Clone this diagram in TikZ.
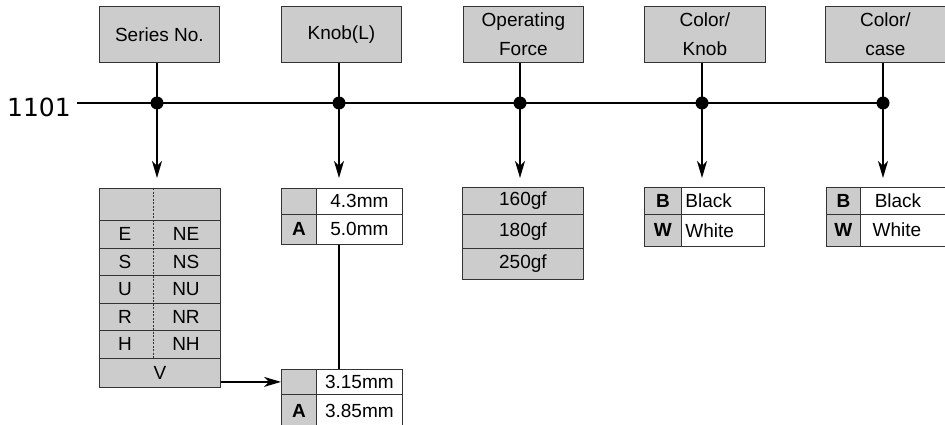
\documentclass[tikz,border=0pt]{standalone}
\usepackage{fontspec}
\setmainfont{Liberation Sans}
\newfontfamily\numfont{DejaVu Sans}
\usetikzlibrary{arrows.meta}
\begin{document}
\begin{tikzpicture}[x=1pt,y=-1pt,
  every node/.style={font=\fontsize{19}{29}\selectfont},
  lbl/.style={draw=black!80, line width=0.8pt, fill=black!20, minimum width=120pt, minimum height=56pt, anchor=north west, inner sep=0pt, align=center},
  cellg/.style={draw=black!80, line width=0.8pt, fill=black!20, anchor=north west, inner sep=0pt},
  cellw/.style={cellg, fill=white},
  cellwl/.style={cellw, text width=75pt, align=left, inner xsep=4pt},
  txt/.style={inner sep=0pt},
  conn/.style={line width=1.5pt},
  arr/.style={conn, -{Stealth[length=17pt,width=10pt,inset=5pt]}},
  dot/.style={circle, fill=black, inner sep=0pt, minimum size=13pt}
]
\useasboundingbox (0,0) rectangle (945,425);

% top label boxes
\node[lbl] (sn) at (99,6) {Series No.};
\node[lbl] (kl) at (281,6) {Knob(L)};
\node[lbl] (of) at (463,6) {Operating\\Force};
\node[lbl, minimum width=121pt] (ck) at (644,6) {Color/\\Knob};
\node[lbl] (cc) at (825,6) {Color/\\case};

% junctions
\coordinate (j1) at (157,103);
\coordinate (j2) at (339,103);
\coordinate (j3) at (520,103);
\coordinate (j4) at (702,103);
\coordinate (j5) at (883,103);
\coordinate (h0) at (77,103);
\coordinate (a1) at (157,178);
\coordinate (a2) at (339,178);
\coordinate (a3) at (520,178);
\coordinate (a4) at (702,178);
\coordinate (a5) at (883,178);

\node[txt, anchor=base east, font=\numfont\fontsize{25}{30}\selectfont] (num) at (71,117) {1101};

% series table
\node[cellg, minimum width=121pt, minimum height=32pt] (s0) at (99,188) {};
\node[cellg, minimum width=121pt, minimum height=27.5pt] (s1) at (99,220) {};
\node[cellg, minimum width=121pt, minimum height=27.5pt] (s2) at (99,247.5) {};
\node[cellg, minimum width=121pt, minimum height=27.5pt] (s3) at (99,275) {};
\node[cellg, minimum width=121pt, minimum height=27.5pt] (s4) at (99,302.5) {};
\node[cellg, minimum width=121pt, minimum height=27.5pt] (s5) at (99,330) {};
\node[cellg, minimum width=121pt, minimum height=29.5pt] (s6) at (99,357.5) {V};
\node[txt] (tE) at (125,234) {E};
\node[txt] (tNE) at (186,234) {NE};
\node[txt] (tS) at (125,261.5) {S};
\node[txt] (tNS) at (186,261.5) {NS};
\node[txt] (tU) at (125,289) {U};
\node[txt] (tNU) at (186,289) {NU};
\node[txt] (tR) at (125,316.5) {R};
\node[txt] (tNR) at (186,316.5) {NR};
\node[txt] (tH) at (125,344) {H};
\node[txt] (tNH) at (186,344) {NH};
\coordinate (sd1) at (153,188);
\coordinate (sd2) at (153,357.5);
\draw[black!80, line width=0.8pt, dash pattern=on 2pt off 1.5pt] (sd1) -- (sd2);

% knob tables
\node[cellg, minimum width=35pt, minimum height=26pt] (k1a) at (281,188) {};
\node[cellw, minimum width=86pt, minimum height=26pt] (k1b) at (316,188) {4.3mm};
\node[cellg, minimum width=35pt, minimum height=30pt] (k2a) at (281,214) {\bfseries A};
\node[cellw, minimum width=86pt, minimum height=30pt] (k2b) at (316,214) {5.0mm};

\node[cellg, minimum width=35pt, minimum height=25pt] (l1a) at (281,369) {};
\node[cellw, minimum width=86pt, minimum height=25pt] (l1b) at (316,369) {3.15mm};
\node[cellg, minimum width=35pt, minimum height=34pt] (l2a) at (281,394) {\bfseries A};
\node[cellw, minimum width=86pt, minimum height=34pt] (l2b) at (316,394) {3.85mm};

% operating force table
\node[cellg, minimum width=121pt, minimum height=27pt] (o1) at (462,187) {160gf};
\node[cellg, minimum width=121pt, minimum height=34pt] (o2) at (462,214) {180gf};
\node[cellg, minimum width=121pt, minimum height=31pt] (o3) at (462,248) {250gf};

% color knob table
\node[cellg, minimum width=37pt, minimum height=27pt] (c1a) at (644,187) {\bfseries B};
\node[cellwl, minimum height=27pt] (c1b) at (681,187) {Black};
\node[cellg, minimum width=37pt, minimum height=32pt] (c2a) at (644,214) {\bfseries W};
\node[cellwl, minimum height=32pt] (c2b) at (681,214) {White};

% color case table
\node[cellg, minimum width=34pt, minimum height=27pt] (e1a) at (826,187) {\bfseries B};
\node[cellw, minimum width=90pt, minimum height=27pt] (e1b) at (860,187) {};
\node[cellg, minimum width=34pt, minimum height=32pt] (e2a) at (826,214) {\bfseries W};
\node[cellw, minimum width=90pt, minimum height=32pt] (e2b) at (860,214) {};
\node[txt] (tBl) at (898,200.5) {Black};
\node[txt] (tWh) at (897,230) {White};

% connectors
\draw[conn] (h0) -- (j5);
\draw[arr] (sn.south -| j1) -- (a1);
\draw[arr] (kl.south -| j2) -- (a2);
\draw[arr] (of.south -| j3) -- (a3);
\draw[arr] (ck.south -| j4) -- (a4);
\draw[arr] (cc.south -| j5) -- (a5);
\draw[conn] (k2b.south -| j2) -- (l1b.north -| j2);
\draw[arr] (s6.east |- l1a.west) -- (l1a.west);

\node[dot] (d1) at (j1) {};
\node[dot] (d2) at (j2) {};
\node[dot] (d3) at (j3) {};
\node[dot] (d4) at (j4) {};
\node[dot] (d5) at (j5) {};
\end{tikzpicture}
\end{document}
